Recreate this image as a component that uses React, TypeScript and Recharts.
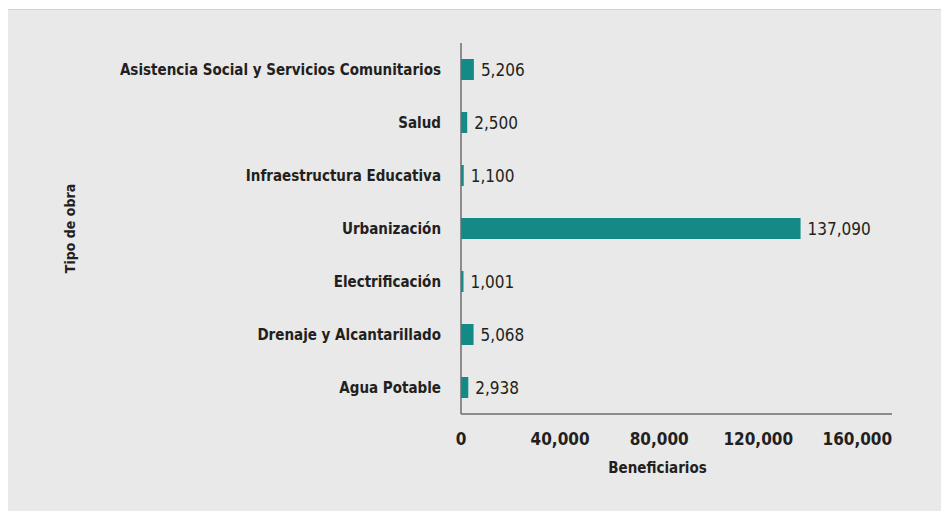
import React from 'react';
import { BarChart, Bar, XAxis, YAxis, LabelList, Label } from 'recharts';

const categories: string[] = [
  'Asistencia Social y Servicios Comunitarios',
  'Salud',
  'Infraestructura Educativa',
  'Urbanización',
  'Electrificación',
  'Drenaje y Alcantarillado',
  'Agua Potable',
];

const beneficiarios: number[] = [5206, 2500, 1100, 137090, 1001, 5068, 2938];

const xTicks: number[] = [0, 40000, 80000, 120000, 160000];

const data = categories.map((name, i) => ({ name, value: beneficiarios[i] }));

const FONT = '"DejaVu Sans Condensed", "Liberation Sans Narrow", "Roboto", sans-serif';

const fmt = (v: number) => v.toLocaleString('en-US');

const App: React.FC = () => {
  return (
    <div
      style={{
        width: 945,
        height: 502,
        marginLeft: -1,
        marginTop: 1,
        background: '#e8e9e8',
        border: '1px solid #d3d3d3',
        fontFamily: FONT,
      }}
    >
      <BarChart
        layout="vertical"
        width={941}
        height={500}
        data={data}
        margin={{ top: 33, right: 57, left: 0, bottom: 36 }}
        barCategoryGap={16}
      >
        <XAxis
          type="number"
          domain={[0, 174000]}
          ticks={xTicks}
          tickFormatter={fmt}
          tickLine={false}
          axisLine={{ stroke: '#6d6d6d', strokeWidth: 1.5 }}
          tick={{ fill: '#231f20', fontSize: 17, fontWeight: 'bold', fontFamily: FONT }}
          tickMargin={13}
          height={60}
        >
          <Label
            value="Beneficiarios"
            position="insideBottom"
            offset={1}
            dx={-19}
            style={{ fill: '#231f20', fontSize: 15, fontWeight: 'bold', fontFamily: FONT }}
          />
        </XAxis>
        <YAxis
          type="category"
          dataKey="name"
          width={453}
          tickLine={false}
          axisLine={{ stroke: '#6d6d6d', strokeWidth: 1.5 }}
          tick={{ fill: '#231f20', fontSize: 15, fontWeight: 'bold', fontFamily: FONT }}
          tickMargin={14}
        >
          <Label
            value="Tipo de obra"
            angle={-90}
            position="insideLeft"
            offset={62}
            style={{ fill: '#231f20', fontSize: 14, fontWeight: 'bold', fontFamily: FONT, textAnchor: 'middle' }}
          />
        </YAxis>
        <Bar dataKey="value" fill="#148a87" barSize={21} isAnimationActive={false}>
          <LabelList
            dataKey="value"
            position="right"
            offset={7}
            formatter={(v: any) => fmt(Number(v))}
            style={{ fill: '#231f20', fontSize: 17, fontFamily: FONT }}
          />
        </Bar>
      </BarChart>
    </div>
  );
};

export default App;
